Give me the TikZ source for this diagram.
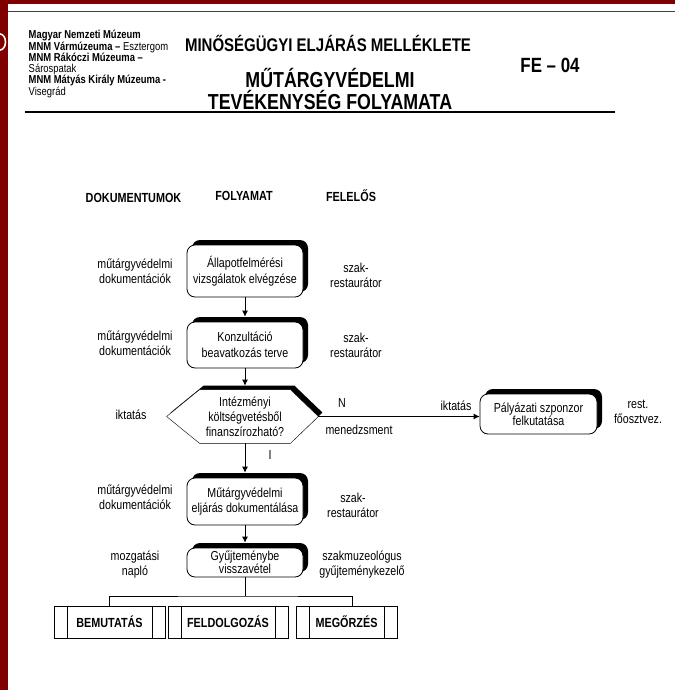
\documentclass[tikz,border=0pt]{standalone}
\usepackage{fontspec}
\setmainfont{Liberation Sans}[FakeStretch=0.82]
\usepackage{tikz}
\usetikzlibrary{calc,positioning,shapes,shadows,arrows.meta,backgrounds}
\definecolor{framered}{RGB}{128,0,0}
\tikzset{
	proc/.style={draw,rounded corners=8pt,fill=white,minimum width=116pt,inner sep=2pt,align=center,
		font=\fontsize{13}{16}\selectfont,
		drop shadow={shadow xshift=5pt,shadow yshift=5pt,opacity=1,fill=black}},
	lbl/.style={align=center,font=\fontsize{13}{15}\selectfont},
	colhead/.style={font=\bfseries\fontsize{13.2}{15}\selectfont},
	outbox/.style={draw,minimum height=32pt,inner sep=0pt,font=\bfseries\fontsize{13.2}{15}\selectfont,
		path picture={\draw ([xshift=13pt]path picture bounding box.north west) -- ([xshift=13pt]path picture bounding box.south west)
			([xshift=-13pt]path picture bounding box.north east) -- ([xshift=-13pt]path picture bounding box.south east);}},
	>={Latex[length=6pt,width=6pt]}
}
\begin{document}
\begin{tikzpicture}[x=1pt,y=-1pt,line width=0.8pt]
		\useasboundingbox (0,0) rectangle (675,690);
		\fill[framered] (0,0) rectangle (8,690);
		\fill[framered] (0,0) rectangle (675,4);
		\draw[white,line width=1.6pt] (0,34) arc[start angle=-90,end angle=90,x radius=5.5,y radius=8];
		\draw[black!75,line width=0.9pt] (8,11) -- (675,11);

		\node(org) [anchor=north west,align=left,font=\fontsize{11.5}{10.3}\selectfont] at (25,26)
			{\textbf{Magyar Nemzeti Múzeum}\\\textbf{MNM Vármúzeuma –} Esztergom\\\textbf{MNM Rákóczi Múzeuma –}\\Sárospatak\\\textbf{MNM Mátyás Király Múzeuma -}\\Visegrád};
		\node(qtitle) [font=\bfseries\fontsize{18.3}{20}\selectfont] at (328,43) {MINŐSÉGÜGYI ELJÁRÁS MELLÉKLETE};
		\node(ptitle) [align=center,font=\bfseries\fontsize{21.7}{22}\selectfont] at (330,89) {MŰTÁRGYVÉDELMI\\TEVÉKENYSÉG FOLYAMATA};
		\node(code) [font=\bfseries\fontsize{20.6}{22}\selectfont] at (550,65) {FE – 04};
		\draw[line width=1.8pt] (25,112) -- (615,112);

		\node(hdoc) [colhead] at (133.5,198) {DOKUMENTUMOK};
		\node(hproc) [colhead] at (244,196) {FOLYAMAT};
		\node(hresp) [colhead] at (351,196) {FELELŐS};

		\node(b1) [proc,minimum height=52pt] at (245,271) {Állapotfelmérési\\vizsgálatok elvégzése};
		\node(b2) [proc,minimum height=46pt] at (245,345) {Konzultáció\\beavatkozás terve};
		\node(dec) [align=center,minimum width=90pt,minimum height=53pt,inner sep=0pt,font=\fontsize{13}{15}\selectfont] at (245,416.5)
			{Intézményi\\költségvetésből\\finanszírozható?};
		\node(b3) [proc,minimum height=47pt,font=\fontsize{13}{15}\selectfont] at (245,501.5) {Műtárgyvédelmi\\eljárás dokumentálása};
		\node(b4) [proc,minimum height=29pt,inner sep=1pt,font=\fontsize{13}{12.5}\selectfont] at (245,562.5) {Gyűjteménybe\\visszavétel};
		\node(bp) [proc,minimum width=117pt,minimum height=40pt,font=\fontsize{13}{13}\selectfont] at (538.5,414) {Pályázati szponzor\\felkutatása};

		\begin{scope}[on background layer]
			\coordinate (dec-w) at ($(dec.west)+(-33,0)$);
			\coordinate (dec-e) at ($(dec.east)+(28,0)$);
			\fill[transform canvas={xshift=4pt,yshift=4pt}] (dec.north west) -- (dec.north east) -- (dec-e) -- (dec.south east) -- (dec.south west) -- (dec-w) -- cycle;
			\draw[fill=white] (dec.north west) -- (dec.north east) -- (dec-e) -- (dec.south east) -- (dec.south west) -- (dec-w) -- cycle;
		\end{scope}

		\node(docs1) [lbl] at (135,271) {műtárgyvédelmi\\dokumentációk};
		\node(resp1) [lbl] at (356,275) {szak-\\restaurátor};
		\node(docs2) [lbl] at (135,343) {műtárgyvédelmi\\dokumentációk};
		\node(resp2) [lbl] at (356,345) {szak-\\restaurátor};
		\node(reg1) [lbl] at (131,415) {iktatás};
		\node(no) [lbl] at (342,403) {N};
		\node(mgmt) [lbl] at (359,430) {menedzsment};
		\node(reg2) [lbl] at (456,406) {iktatás};
		\node(resp5) [lbl] at (638,412) {rest.\\főosztvez.};
		\node(yes) [lbl] at (270,455) {I};
		\node(docs3) [lbl] at (135,497.5) {műtárgyvédelmi\\dokumentációk};
		\node(resp3) [lbl] at (353,505.5) {szak-\\restaurátor};
		\node(log) [lbl] at (135,564.5) {mozgatási\\napló};
		\node(resp4) [lbl] at (362,564.5) {szakmuzeológus\\gyűjteménykezelő};

		\node(bm) [outbox,minimum width=111pt] at (109.5,622) {BEMUTATÁS};
		\node(fd) [outbox,minimum width=120pt] at (228,622) {FELDOLGOZÁS};
		\node(mg) [outbox,minimum width=101pt] at (346.5,622) {MEGŐRZÉS};
		\coordinate (split) at (245,596);

		\draw[->,shorten >=5pt] (b1) -- (b2);
		\draw[->,shorten >=4pt] (b2) -- (dec);
		\draw[->,shorten >=5pt] (dec) -- (b3);
		\draw[->,shorten >=5pt] (b3) -- (b4);
		\draw[->] (dec-e) -- (dec-e -| bp.west);
		\draw (b4) -- (split);
		\draw (bm.north) |- (split) -| ([xshift=5.5pt]mg.north);
	\end{tikzpicture}
\end{document}
